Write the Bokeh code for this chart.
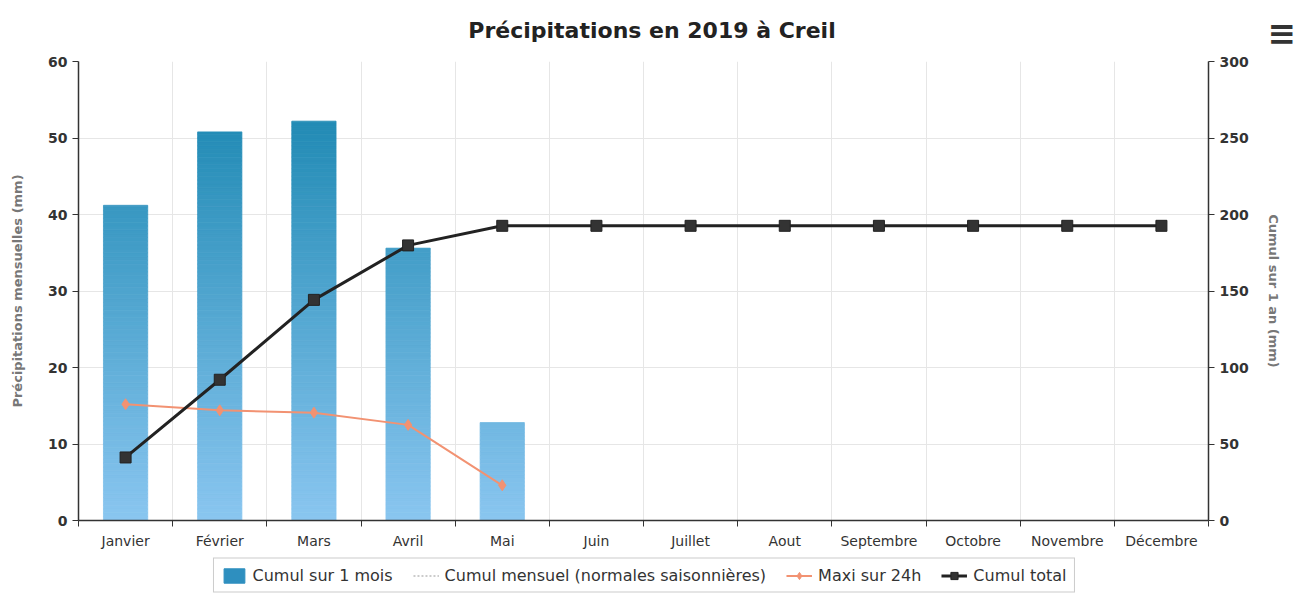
from bokeh.plotting import figure
from bokeh.layouts import column
from bokeh.models import Range1d, LinearAxis, FixedTicker, Legend, LegendItem, ColumnDataSource
from bokeh.core.properties import value
from bokeh.embed import file_html
from bokeh.resources import INLINE
import math

# ---- data ----
months = ["Janvier", "Février", "Mars", "Avril", "Mai", "Juin", "Juillet", "Aout",
          "Septembre", "Octobre", "Novembre", "Décembre"]
cumul_mois = [41.2, 50.8, 52.2, 35.6, 12.8]
maxi_24h = [15.2, 14.4, 14.1, 12.5, 4.6]
cumul_total = [41.2, 92.0, 144.2, 179.8, 192.6, 192.6, 192.6, 192.6, 192.6, 192.6, 192.6, 192.6]
normales = []  # no data shown
left_ticks = [0, 10, 20, 30, 40, 50, 60]
right_ticks = [0, 50, 100, 150, 200, 250, 300]

TITLE = "Précipitations en 2019 à Creil"
FONT = "DejaVu Sans"
PAGE_W = 1298

centers = [i + 0.5 for i in range(len(months))]
bounds = [float(i) for i in range(len(months) + 1)]

C_BAR = "#2e8fbf"
C_MAXI = "#f29272"
C_TOTAL = "#222222"
C_NORM = "#bbbbbb"

FRAME_L, FRAME_W, FRAME_H = 78, 1130, 459

# ---------------- header (title + menu icon) ----------------
HEAD_H = 53
head = figure(width=PAGE_W, height=HEAD_H, output_backend="svg", toolbar_location=None,
              x_range=Range1d(FRAME_L, FRAME_L + FRAME_W), y_range=Range1d(0, HEAD_H),
              min_border=0, min_border_left=FRAME_L, x_axis_location=None, y_axis_location=None)
head.outline_line_color = None
head.grid.visible = False
head.text(x=[651], y=[HEAD_H - 30], text=[TITLE], text_align="center", text_baseline="middle",
          text_font=value(FONT), text_font_size="22px", text_font_style="bold", text_color="#222222")
# menu icon drawn as the only label of an invisible right-hand axis (outside the frame)
icon_y = HEAD_H - 32
icon_ax = LinearAxis(ticker=FixedTicker(ticks=[icon_y]))
icon_ax.major_label_overrides = {icon_y: "≡"}
icon_ax.axis_line_color = None
icon_ax.major_tick_line_color = None
icon_ax.minor_tick_line_color = None
icon_ax.major_label_standoff = 52
icon_ax.major_label_text_font = FONT
icon_ax.major_label_text_font_size = "34px"
icon_ax.major_label_text_font_style = "bold"
icon_ax.major_label_text_color = "#333333"
head.add_layout(icon_ax, "right")

# ---------------- main chart ----------------
p = figure(frame_width=FRAME_W, frame_height=FRAME_H, output_backend="svg", toolbar_location=None,
           x_range=Range1d(0, 12), y_range=Range1d(0, 60),
           min_border_left=FRAME_L, min_border_right=84, min_border_top=8, min_border_bottom=36,
           x_axis_location=None, y_axis_location=None)
p.extra_y_ranges = {"cumul": Range1d(0, 300)}
p.outline_line_color = None

xaxis = LinearAxis(ticker=FixedTicker(ticks=centers, minor_ticks=bounds))
xaxis.major_label_overrides = {c: m for c, m in zip(centers, months)}
xaxis.major_tick_line_color = None
xaxis.major_tick_out = 0
xaxis.major_tick_in = 0
xaxis.major_label_standoff = 6
xaxis.minor_tick_in = 0
xaxis.minor_tick_out = 6
xaxis.minor_tick_line_color = "#333333"
xaxis.axis_line_color = "#333333"
xaxis.axis_line_width = 1.5
xaxis.major_label_text_font = FONT
xaxis.major_label_text_font_size = "14px"
xaxis.major_label_text_color = "#333333"
p.add_layout(xaxis, "below")

yl = LinearAxis(ticker=FixedTicker(ticks=left_ticks),
                axis_label="Précipitations mensuelles (mm)")
yr = LinearAxis(ticker=FixedTicker(ticks=right_ticks), y_range_name="cumul",
                axis_label="Cumul sur 1 an (mm)")
for ax in (yl, yr):
    ax.minor_tick_line_color = None
    ax.major_tick_in = 0
    ax.major_tick_out = 6
    ax.major_tick_line_color = "#333333"
    ax.axis_line_color = "#333333"
    ax.axis_line_width = 1.5
    ax.major_label_text_font = FONT
    ax.major_label_text_font_size = "14px"
    ax.major_label_text_font_style = "bold"
    ax.major_label_text_color = "#333333"
    ax.axis_label_text_font = FONT
    ax.axis_label_text_font_size = "13px"
    ax.axis_label_text_font_style = "bold"
    ax.axis_label_text_color = "#777777"
yl.axis_label_standoff = 20
yr.axis_label_standoff = 14
p.add_layout(yl, "left")
p.add_layout(yr, "right")

p.xgrid.ticker = FixedTicker(ticks=bounds)
p.xgrid.grid_line_color = "#e6e6e6"
p.ygrid.ticker = FixedTicker(ticks=left_ticks)
p.ygrid.grid_line_color = "#e6e6e6"

# gradient bars (colour depends on height in the plot, like the original)
top_rgb = (0x12, 0x82, 0xac)
bot_rgb = (0x8a, 0xc6, 0xf0)

def grad(yv):
    t = max(0.0, min(1.0, yv / 60.0))
    return "#%02x%02x%02x" % tuple(int(round(b + (a - b) * t)) for a, b in zip(top_rgb, bot_rgb))

step = 0.5
xs, bots, tops, cols = [], [], [], []
for i, v in enumerate(cumul_mois):
    n = int(math.ceil(v / step))
    for k in range(n):
        b = k * step
        t = min(b + step, v)
        xs.append(centers[i]); bots.append(b); tops.append(t); cols.append(grad((b + t) / 2))
bar_src = ColumnDataSource(dict(x=xs, bottom=bots, top=tops, color=cols))
p.vbar(x="x", bottom="bottom", top="top", width=0.47, source=bar_src,
       fill_color="color", line_color="color", line_width=0.8)

# normals (no data)
p.line(x=[], y=[], line_color=C_NORM, line_dash="2 2", line_width=1.5)

# maxi 24h
mx = centers[:len(maxi_24h)]
p.line(mx, maxi_24h, line_color=C_MAXI, line_width=2)
p.scatter(mx, maxi_24h, marker="diamond", size=11, fill_color=C_MAXI, line_color=C_MAXI)

# cumul total
p.line(centers, cumul_total, y_range_name="cumul", line_color=C_TOTAL, line_width=3)
p.scatter(centers, cumul_total, y_range_name="cumul", marker="square", size=11,
          fill_color="#333333", line_color=C_TOTAL)

# ---------------- legend strip ----------------
LEG_H = 38
lf = figure(width=PAGE_W, height=LEG_H, output_backend="svg", toolbar_location=None,
            x_range=Range1d(0, 1), y_range=Range1d(0, 1),
            min_border=0, x_axis_location=None, y_axis_location=None)
lf.outline_line_color = None
lf.grid.visible = False
# legend-only swatches: one point placed outside the visible range so nothing shows in the strip
off = dict(x=[-5.0], y=[-5.0])
r_bar = lf.vbar(x=off["x"], top=off["y"], width=0.5, fill_color=C_BAR, line_color=C_BAR)
r_norm = lf.line(x=off["x"] * 2, y=off["y"] * 2, line_color=C_NORM, line_dash="2 2", line_width=1.5)
r_ml = lf.line(x=off["x"] * 2, y=off["y"] * 2, line_color=C_MAXI, line_width=2)
r_ms = lf.scatter(x=off["x"], y=off["y"], marker="diamond", size=10, fill_color=C_MAXI, line_color=C_MAXI)
r_tl = lf.line(x=off["x"] * 2, y=off["y"] * 2, line_color=C_TOTAL, line_width=3)
r_ts = lf.scatter(x=off["x"], y=off["y"], marker="square", size=10, fill_color="#333333", line_color=C_TOTAL)

legend = Legend(items=[
    LegendItem(label="Cumul sur 1 mois", renderers=[r_bar]),
    LegendItem(label="Cumul mensuel (normales saisonnières)", renderers=[r_norm]),
    LegendItem(label="Maxi sur 24h", renderers=[r_ml, r_ms]),
    LegendItem(label="Cumul total", renderers=[r_tl, r_ts]),
], orientation="horizontal", location="center")
legend.label_text_font = FONT
legend.label_text_font_size = "16px"
legend.label_text_color = "#333333"
legend.border_line_color = "#999999"
legend.border_line_width = 1
legend.glyph_width = 26
legend.glyph_height = 18
legend.spacing = 20
legend.padding = 7
legend.margin = 0
legend.label_standoff = 6
lf.add_layout(legend, "center")

layout = column(head, p, lf, spacing=0)
open("out.html", "w").write(file_html(layout, INLINE))
